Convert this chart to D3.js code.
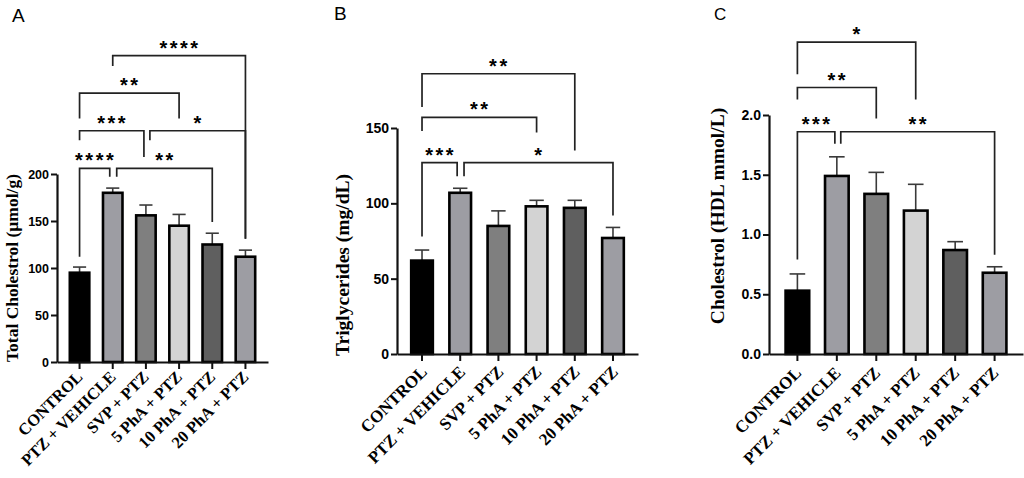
<!DOCTYPE html>
<html>
  <head>
    <meta charset="utf-8">
    <title>Lipid profile</title>
    <script src="https://d3js.org/d3.v7.min.js"></script>
    <style>
      body { margin: 0; background: #fff; }
      svg { display: block; }
      .tick-num { font-family: "Liberation Sans", Arial, sans-serif; font-weight: bold; }
      .cat { font-family: "Liberation Serif", "Times New Roman", serif; font-weight: bold; }
      .ytitle { font-family: "Liberation Serif", "Times New Roman", serif; font-weight: bold; }
      .stars { font-family: "Liberation Sans", Arial, sans-serif; font-weight: bold; font-size: 20px; letter-spacing: 2.5px; }
      .letter { font-family: "Liberation Sans", Arial, sans-serif; }
    </style>
  </head>
  <body>
    <svg></svg>
    <script>
      // groups, same order in every panel
      var categories = ["CONTROL", "PTZ + VEHICLE", "SVP + PTZ", "5 PhA + PTZ", "10 PhA + PTZ", "20 PhA + PTZ"];

      // A: total cholesterol (umol/g), mean and SEM
      var cholMean = [95, 180, 156, 145, 125, 112];
      var cholSem  = [6, 5, 11, 12, 12, 7];
      var cholTicks = [0, 50, 100, 150, 200];

      // B: triglycerides (mg/dL)
      var trigMean = [62, 107, 85, 98, 97, 77];
      var trigSem  = [7, 3, 10, 4, 5, 7];
      var trigTicks = [0, 50, 100, 150];

      // C: HDL cholesterol (mmol/L)
      var hdlMean = [0.53, 1.49, 1.34, 1.20, 0.87, 0.68];
      var hdlSem  = [0.14, 0.16, 0.18, 0.22, 0.07, 0.05];
      var hdlTicks = [0, 0.5, 1.0, 1.5, 2.0];

      // significance brackets: [from group, to group, top, left leg end, right leg end, label]
      // group positions may be fractional, heights are in data units
      var cholBrackets = [
        [1, 5, 326, 315, 131, "****"],
        [0, 3, 286, 259, 259, "**"],
        [0, 1.94, 246, 236, 218, "***"],
        [2.12, 5, 246, 236, 131, "*"],
        [0, 0.91, 206, 112, 197, "****"],
        [1.12, 4, 206, 197, 149, "**"]
      ];
      var trigBrackets = [
        [0, 4, 186, 164, 135, "**"],
        [0, 3, 157, 148, 147, "**"],
        [0, 0.92, 127, 78, 118, "***"],
        [1.1, 5, 127, 118, 92, "*"]
      ];
      var hdlBrackets = [
        [0, 3, 2.61, 2.34, 2.13, "*"],
        [0, 2, 2.23, 2.13, 1.97, "**"],
        [0, 0.95, 1.86, 0.79, 1.76, "***"],
        [1.1, 5, 1.86, 1.76, 0.83, "**"]
      ];

      var barColors = ["#000000", "#9d9da3", "#7f7f7f", "#d3d3d3", "#5f5f5f", "#9d9da3"];

      var svg = d3.select("svg")
        .attr("width", 1024)
        .attr("height", 478);

      var panels = [
        { letter: "A", lx: 12, ly: 22, lsize: 19,
          title: "Total Cholestrol (\u00b5mol/g)", tx: 17.5, ty: 268, tsize: 17.5,
          mean: cholMean, sem: cholSem, ticks: cholTicks, brackets: cholBrackets, fmt: d3.format("d"),
          left: 57, right: 268, bottom: 362, top: 174, max: 200, pi: 0.34, po: 0.35,
          fsize: 12.5, csize: 16.5, cdx: 4, cdy: 16 },
        { letter: "B", lx: 334, ly: 20, lsize: 19,
          title: "Triglycerides (mg/dL)", tx: 349, ty: 265, tsize: 19.5,
          mean: trigMean, sem: trigSem, ticks: trigTicks, brackets: trigBrackets, fmt: d3.format("d"),
          left: 397, right: 638, bottom: 354, top: 128, max: 150, pi: 0.37, po: 0.34,
          fsize: 14, csize: 17, cdx: 6, cdy: 19 },
        { letter: "C", lx: 714, ly: 20, lsize: 17,
          title: "Cholestrol (HDL mmol/L)", tx: 724, ty: 216, tsize: 19.5,
          mean: hdlMean, sem: hdlSem, ticks: hdlTicks, brackets: hdlBrackets, fmt: d3.format(".1f"),
          left: 769, right: 1023, bottom: 354, top: 115, max: 2, pi: 0.34, po: 0.39,
          fsize: 14, csize: 17, cdx: 5, cdy: 20 }
      ];

      panels.forEach(drawPanel);

      function drawPanel(p) {
        var g = svg.append("g");

        var x = d3.scaleBand()
          .domain(categories)
          .range([p.left, p.right])
          .paddingInner(p.pi)
          .paddingOuter(p.po);

        var y = d3.scaleLinear()
          .domain([0, p.max])
          .range([p.bottom, p.top]);

        // centre of a (possibly fractional) group position
        function pos(v) {
          var i = Math.floor(v);
          return x(categories[i]) + x.bandwidth() / 2 + (v - i) * x.step();
        }

        var rows = categories.map(function(c, i) {
          return { cat: c, mean: p.mean[i], sem: p.sem[i], color: barColors[i] };
        });

        // error bars (upper only), drawn before bars
        var cap = x.bandwidth() * 0.3;
        var err = g.selectAll(".err")
          .data(rows)
          .enter().append("g")
            .attr("class", "err")
            .attr("stroke", "#3a3a3a")
            .attr("stroke-width", 1.6);
        err.append("line")
          .attr("x1", function(d) { return x(d.cat) + x.bandwidth() / 2; })
          .attr("x2", function(d) { return x(d.cat) + x.bandwidth() / 2; })
          .attr("y1", function(d) { return y(d.mean); })
          .attr("y2", function(d) { return y(d.mean + d.sem); });
        err.append("line")
          .attr("x1", function(d) { return x(d.cat) + x.bandwidth() / 2 - cap; })
          .attr("x2", function(d) { return x(d.cat) + x.bandwidth() / 2 + cap; })
          .attr("y1", function(d) { return y(d.mean + d.sem); })
          .attr("y2", function(d) { return y(d.mean + d.sem); });

        g.selectAll(".bar")
          .data(rows)
          .enter().append("rect")
            .attr("class", "bar")
            .attr("x", function(d) { return x(d.cat) + 1.2; })
            .attr("width", x.bandwidth() - 2.4)
            .attr("y", function(d) { return y(d.mean); })
            .attr("height", function(d) { return p.bottom - y(d.mean); })
            .attr("fill", function(d) { return d.color; })
            .attr("stroke", "#000")
            .attr("stroke-width", 2.6);

        // axes
        var yAxis = g.append("g")
          .attr("transform", "translate(" + p.left + ",0)")
          .call(d3.axisLeft(y).tickValues(p.ticks).tickFormat(p.fmt).tickSize(6).tickSizeOuter(0).tickPadding(2));
        yAxis.selectAll("text")
          .attr("class", "tick-num")
          .style("font-size", p.fsize + "px")
          .attr("fill", "#000");

        var xAxis = g.append("g")
          .attr("transform", "translate(0," + p.bottom + ")")
          .call(d3.axisBottom(x).tickSize(7).tickSizeOuter(0));
        xAxis.selectAll("text").remove();
        xAxis.selectAll(".tick")
          .append("text")
            .attr("class", "cat")
            .style("font-size", p.csize + "px")
            .attr("fill", "#000")
            .attr("text-anchor", "end")
            .attr("transform", "translate(" + p.cdx + "," + p.cdy + ") rotate(-45)")
            .text(function(d) { return d; });

        svg.selectAll(".domain").attr("stroke-width", 2.2).attr("stroke", "#111");
        svg.selectAll(".tick line").attr("stroke-width", 2).attr("stroke", "#111");

        // axis title
        g.append("text")
          .attr("class", "ytitle")
          .attr("text-anchor", "middle")
          .style("font-size", p.tsize + "px")
          .attr("transform", "translate(" + p.tx + "," + p.ty + ") rotate(-90)")
          .text(p.title);

        // significance brackets
        var br = g.selectAll(".bracket")
          .data(p.brackets)
          .enter().append("g")
            .attr("class", "bracket");
        br.append("path")
          .attr("fill", "none")
          .attr("stroke", "#222")
          .attr("stroke-width", 1.7)
          .attr("d", function(b) {
            return "M" + pos(b[0]) + "," + y(b[3]) +
                   "V" + y(b[2]) +
                   "H" + pos(b[1]) +
                   "V" + y(b[4]);
          });
        br.append("text")
          .attr("class", "stars")
          .attr("text-anchor", "middle")
          .attr("x", function(b) { return (pos(b[0]) + pos(b[1])) / 2 + 1; })
          .attr("y", function(b) { return y(b[2]) - 1; })
          .text(function(b) { return b[5]; });

        // panel letter
        svg.append("text")
          .attr("class", "letter")
          .style("font-size", p.lsize + "px")
          .attr("x", p.lx)
          .attr("y", p.ly)
          .text(p.letter);
      }
    </script>
  </body>
</html>
